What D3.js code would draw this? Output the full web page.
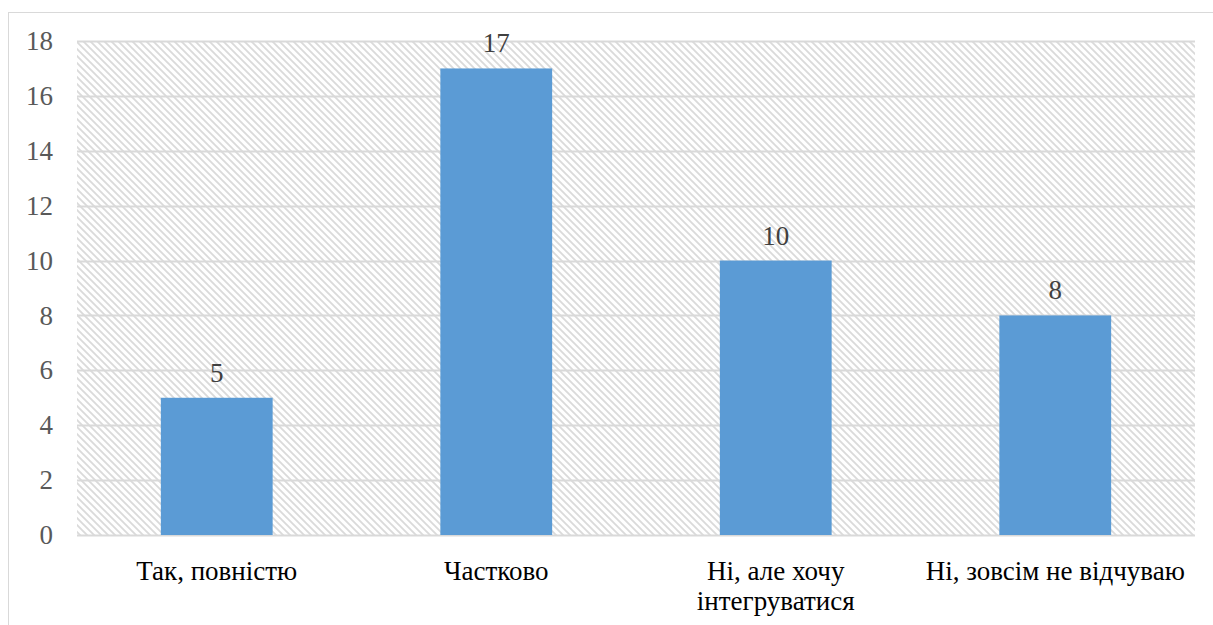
<!DOCTYPE html>
<html><head><meta charset="utf-8">
<script src="https://cdn.jsdelivr.net/npm/d3@7"></script>
<style>body{margin:0;background:#fff;}svg{display:block;}
svg text{font-family:"Liberation Serif","Times New Roman","DejaVu Serif",serif !important;font-size:27px;}
</style>
</head><body>
<svg id="chart" width="1213" height="625"></svg>
<script>
const categories = ["Так, повністю", "Частково", "Ні, але хочу інтегруватися", "Ні, зовсім не відчуваю"];
const categoryLines = [["Так, повністю"], ["Частково"], ["Ні, але хочу", "інтегруватися"], ["Ні, зовсім не відчуваю"]];
const values = [5, 17, 10, 8];
const yTicks = [0, 2, 4, 6, 8, 10, 12, 14, 16, 18];

const svg = d3.select("#chart");
const m = {left: 77, right: 1195, top: 41, bottom: 535};

// outer border
svg.append("rect").attr("x", 8.5).attr("y", 12.5).attr("width", 1300).attr("height", 700)
  .attr("fill", "#fff").attr("stroke", "#d9d9d9").attr("stroke-width", 1);

const defs = svg.append("defs");
const P = 7;
const pat = defs.append("pattern").attr("id", "hatch").attr("patternUnits", "userSpaceOnUse")
  .attr("width", P).attr("height", P);
pat.append("rect").attr("width", P).attr("height", P).attr("fill", "#fff");
pat.append("path").attr("d", `M-1,-1 L${P+1},${P+1} M${-P-1},-1 L1,${P+1} M${P-1},-1 L${2*P+1},${P+1}`)
  .attr("stroke", "#dadada").attr("stroke-width", 1.8);

const x = d3.scaleBand().domain(categories).range([m.left, m.right]).paddingInner(0.6).paddingOuter(0.3);
const y = d3.scaleLinear().domain([0, 18]).range([m.bottom, m.top]);

svg.append("rect").attr("x", m.left).attr("y", m.top).attr("width", m.right - m.left)
  .attr("height", m.bottom - m.top).attr("fill", "url(#hatch)");

// gridlines
svg.append("g").selectAll("line").data(yTicks).join("line")
  .attr("x1", m.left).attr("x2", m.right)
  .attr("y1", d => Math.round(y(d)) + 0.5).attr("y2", d => Math.round(y(d)) + 0.5)
  .attr("stroke", "#d9d9d9").attr("stroke-width", 2);

// y axis
const yAxis = svg.append("g").attr("transform", `translate(${m.left},0)`)
  .call(d3.axisLeft(y).tickValues(yTicks).tickSize(0).tickPadding(24));
yAxis.select(".domain").remove();
yAxis.selectAll("text").attr("fill", "#595959");

// bars
svg.append("g").selectAll("rect").data(values).join("rect")
  .attr("x", (d, i) => x(categories[i])).attr("width", x.bandwidth())
  .attr("y", d => y(d)).attr("height", d => y(0) - y(d)).attr("fill", "#5b9bd5");

// data labels
svg.append("g").selectAll("text").data(values).join("text")
  .attr("x", (d, i) => x(categories[i]) + x.bandwidth() / 2)
  .attr("y", d => y(d) - 16)
  .attr("text-anchor", "middle")
  .attr("fill", "#404040").text(d => d);

// x axis labels
const xl = svg.append("g").selectAll("text").data(categories).join("text")
  .attr("x", d => x(d) + x.bandwidth() / 2)
  .attr("y", 580)
  .attr("text-anchor", "middle")
  .attr("fill", "#000");
xl.each(function(d, i) {
  const t = d3.select(this);
  categoryLines[i].forEach((ln, j) => {
    t.append("tspan").attr("x", x(d) + x.bandwidth() / 2).attr("dy", j === 0 ? 0 : 30).text(ln);
  });
});
</script>
</body></html>
